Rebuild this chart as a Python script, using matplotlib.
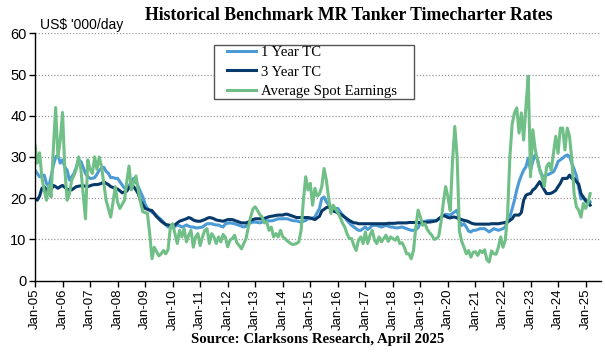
import matplotlib
matplotlib.use("Agg")
import matplotlib.pyplot as plt
from matplotlib.patches import Rectangle
import numpy as np

# monthly data, Jan 2005 - Mar 2025 (US$ '000/day)
one_year_tc = [
    26.8, 26.0, 25.2, 25.4, 25.6, 23.6, 22.8, 25.2, 28.0, 30.0, 30.4, 28.5,  # 2005
    29.3, 27.5, 26.8, 24.4, 25.2, 26.0, 27.5, 29.3, 28.9, 27.5, 26.0, 25.2,  # 2006
    24.8, 24.8, 25.0, 25.8, 26.8, 27.2, 27.5, 26.5, 26.0, 25.0, 25.0, 24.8,  # 2007
    24.8, 24.0, 23.2, 22.4, 22.6, 23.0, 24.0, 24.8, 24.0, 22.8, 21.5, 20.3,  # 2008
    18.5, 17.5, 17.0, 16.6, 16.3, 15.8, 15.2, 14.8, 14.2, 13.6, 13.0, 13.2,  # 2009
    12.8, 13.1, 13.5, 13.3, 13.0, 13.2, 13.5, 13.2, 13.0, 13.0, 12.8, 12.8,  # 2010
    12.9, 13.0, 13.4, 13.8, 13.8, 13.8, 13.6, 13.5, 13.5, 13.2, 13.0, 13.8,  # 2011
    13.9, 14.0, 13.9, 13.8, 13.6, 13.4, 13.2, 13.0, 13.2, 13.8, 14.0, 14.2,  # 2012
    14.2, 14.1, 14.0, 14.2, 14.5, 14.5, 14.5, 14.5, 14.6, 14.8, 15.0, 15.0,  # 2013
    15.0, 15.0, 15.0, 14.8, 14.6, 14.5, 14.5, 14.3, 14.2, 14.4, 14.6, 15.0,  # 2014
    15.0, 15.2, 15.4, 16.5, 17.5, 19.9, 20.3, 19.1, 18.5, 17.9, 17.5, 17.5,  # 2015
    17.5, 16.7, 16.0, 15.4, 14.6, 14.0, 13.4, 13.0, 12.6, 12.2, 12.2, 12.6,  # 2016
    13.0, 12.4, 12.8, 13.4, 13.4, 13.4, 13.2, 13.0, 13.2, 13.4, 13.2, 13.0,  # 2017
    13.0, 12.8, 12.8, 12.9, 13.0, 12.8, 12.6, 12.4, 12.2, 12.2, 12.4, 12.8,  # 2018
    14.2, 14.3, 14.4, 14.5, 14.6, 14.6, 14.6, 14.6, 15.0, 15.4, 15.8, 16.1,  # 2019
    16.0, 15.9, 16.3, 16.7, 17.1, 14.6, 13.4, 13.8, 13.0, 12.0, 11.8, 12.2,  # 2020
    12.2, 12.4, 12.6, 12.6, 12.6, 12.2, 11.8, 12.2, 12.6, 12.4, 12.2, 12.4,  # 2021
    12.6, 13.0, 14.6, 15.4, 17.5, 19.5, 22.0, 24.0, 25.5, 26.8, 27.6, 29.7,  # 2022
    26.8, 29.0, 30.5, 29.5, 27.0, 25.5, 25.3, 25.6, 25.8, 26.1, 26.4, 27.4,  # 2023
    28.9, 29.3, 29.7, 30.2, 30.5, 30.1, 28.5, 27.0, 25.5, 22.5, 19.8, 20.3,  # 2024
    19.2, 18.7, 19.1,                                                        # 2025
]

three_year_tc = [
    19.9, 19.5, 20.5, 22.4, 22.8, 22.0, 21.1, 22.0, 23.1, 22.8, 22.4, 22.8,  # 2005
    23.1, 22.6, 22.2, 22.0, 22.0, 22.4, 22.8, 22.9, 23.0, 23.0, 22.9, 22.8,  # 2006
    23.0, 23.2, 23.3, 23.3, 23.4, 23.6, 24.0, 23.6, 23.3, 22.8, 22.6, 22.4,  # 2007
    22.2, 21.8, 21.3, 21.5, 21.7, 22.5, 23.1, 22.8, 22.0, 21.1, 19.4, 18.4,  # 2008
    17.5, 17.3, 17.1, 17.0, 16.2, 15.5, 15.0, 14.4, 14.0, 13.6, 13.5, 13.4,  # 2009
    13.4, 13.5, 14.0, 14.4, 14.6, 14.8, 15.0, 15.3, 15.1, 14.7, 14.5, 14.4,  # 2010
    14.4, 14.6, 14.8, 15.1, 15.3, 15.2, 15.0, 14.7, 14.6, 14.5, 14.4, 14.6,  # 2011
    14.8, 14.8, 14.8, 14.6, 14.4, 14.2, 14.0, 14.0, 14.0, 14.2, 14.6, 14.8,  # 2012
    15.0, 15.0, 15.0, 15.0, 15.1, 15.3, 15.5, 15.6, 15.7, 15.8, 15.9, 15.9,  # 2013
    15.9, 16.1, 16.1, 15.9, 15.7, 15.5, 15.3, 15.3, 15.3, 15.3, 15.3, 15.3,  # 2014
    15.2, 15.0, 14.8, 15.2, 15.6, 16.9, 17.3, 17.7, 17.9, 17.3, 16.9, 16.7,  # 2015
    16.4, 16.1, 15.8, 15.4, 15.0, 14.6, 14.3, 14.0, 14.0, 13.8, 13.8, 13.8,  # 2016
    13.8, 13.8, 13.8, 13.8, 13.8, 13.8, 13.8, 13.8, 13.8, 13.8, 13.9, 13.9,  # 2017
    13.9, 13.9, 14.0, 14.0, 14.0, 14.0, 14.0, 14.1, 14.1, 14.1, 14.1, 14.1,  # 2018
    14.1, 14.1, 14.1, 14.2, 14.2, 14.3, 14.4, 14.5, 15.0, 15.4, 15.8, 15.6,  # 2019
    15.3, 15.2, 15.4, 15.4, 15.2, 15.0, 14.8, 14.6, 14.5, 14.3, 14.0, 13.8,  # 2020
    13.7, 13.7, 13.7, 13.7, 13.7, 13.7, 13.7, 13.8, 13.8, 13.8, 13.8, 13.9,  # 2021
    14.0, 14.1, 14.2, 14.6, 15.0, 15.9, 15.9, 15.9, 16.5, 19.5, 20.7, 21.0,  # 2022
    21.1, 22.0, 22.4, 23.2, 24.0, 23.0, 22.0, 21.1, 21.1, 21.2, 21.5, 21.9,  # 2023
    22.8, 23.6, 24.8, 24.8, 24.8, 25.6, 24.8, 24.8, 24.0, 23.4, 21.1, 20.2,  # 2024
    19.5, 19.0, 18.3,                                                        # 2025
]

spot_earnings = [
    33.0, 28.5, 31.0, 25.0, 22.0, 19.5, 23.0, 20.3, 32.0, 42.0, 30.0, 34.0,  # 2005
    40.8, 27.0, 19.5, 21.0, 24.4, 25.5, 27.0, 30.0, 27.0, 21.0, 15.0, 29.3,  # 2006
    27.0, 26.0, 30.0, 27.0, 30.0, 27.6, 23.6, 19.5, 17.5, 15.4, 19.0, 22.8,  # 2007
    19.0, 17.5, 18.5, 19.5, 24.0, 27.8, 22.0, 24.0, 25.4, 22.0, 19.0, 16.7,  # 2008
    16.5, 16.3, 11.4, 5.3, 8.1, 7.0, 6.0, 6.5, 7.3, 6.5, 7.5, 13.0,          # 2009
    13.8, 11.4, 9.0, 12.2, 10.6, 12.6, 9.4, 11.0, 12.2, 8.1, 10.6, 11.4,     # 2010
    8.5, 10.6, 12.2, 12.6, 9.0, 11.4, 10.6, 9.0, 10.6, 9.4, 11.2, 10.5,      # 2011
    8.2, 9.8, 10.2, 11.0, 9.2, 8.5, 7.7, 9.0, 10.2, 13.0, 15.4, 17.4,        # 2012
    17.9, 17.0, 16.0, 15.4, 14.0, 14.2, 12.2, 13.0, 10.6, 11.4, 10.6, 12.2,  # 2013
    10.6, 10.2, 9.6, 9.2, 8.8, 8.8, 9.0, 9.4, 12.2, 19.5, 25.2, 22.0,        # 2014
    23.6, 18.3, 22.4, 20.5, 21.0, 22.8, 27.2, 24.4, 20.0, 16.3, 18.3, 17.3,  # 2015
    16.5, 15.4, 14.0, 13.0, 11.4, 10.2, 10.2, 8.5, 7.3, 9.8, 10.6, 9.0,      # 2016
    11.8, 9.0, 11.0, 12.2, 9.8, 9.0, 10.6, 9.4, 10.2, 11.0, 9.5, 10.6,       # 2017
    10.2, 9.8, 10.6, 9.0, 9.2, 8.1, 6.5, 6.5, 5.3, 7.3, 13.0, 17.1,          # 2018
    15.4, 13.4, 13.8, 12.4, 11.6, 11.0, 10.0, 10.2, 10.8, 14.2, 19.0, 22.8,  # 2019
    20.3, 17.0, 29.0, 37.4, 30.0, 12.0, 9.5, 8.1, 6.5, 7.3, 5.7, 6.9,        # 2020
    7.0, 6.1, 7.3, 6.8, 7.5, 5.0, 4.5, 7.2, 6.5, 6.4, 8.1, 10.6,             # 2021
    8.1, 9.8, 16.0, 30.0, 38.0, 40.7, 41.9, 35.8, 40.7, 34.1, 42.3, 49.6,    # 2022
    25.2, 36.6, 32.0, 29.3, 26.8, 25.2, 22.8, 27.6, 28.5, 26.8, 30.9, 35.0,  # 2023
    30.9, 37.0, 37.0, 31.7, 37.0, 35.0, 29.3, 21.1, 17.9, 17.1, 15.4, 18.7,  # 2024
    17.5, 18.7, 21.1,                                                        # 2025
]

tick_years = list(range(2005, 2026))
tick_labels = ["Jan-%02d" % (y % 100) for y in tick_years]

series_names = ["1 Year TC", "3 Year TC", "Average Spot Earnings"]
series_colors = ["#4C9BD6", "#073A6A", "#6FBF86"]

months = np.arange(len(spot_earnings))
x = 2005 + months / 12.0

sans = ["Liberation Sans", "DejaVu Sans"]
serif = ["Liberation Serif", "DejaVu Serif"]

W, H = 605, 357
fig = plt.figure(figsize=(W / 100, H / 100), dpi=100)
ax = fig.add_axes([35 / W, 1 - 280.6 / H, 566 / W, 247.3 / H])

for vals, name, col in zip([one_year_tc, three_year_tc, spot_earnings],
                           series_names, series_colors):
    ax.plot(x, vals, color=col, linewidth=2.2, label=name,
            solid_joinstyle="round")

ax.set_xlim(2005, 2025.56)
ax.set_ylim(0, 60)
ax.set_yticks(range(0, 61, 10))
ax.set_xticks(tick_years)
ax.set_xticklabels(tick_labels, rotation=90, family=sans, fontsize=9.5)
for lbl in ax.get_yticklabels():
    lbl.set_family(sans)
    lbl.set_fontsize(10.5)

for v in range(10, 61, 10):
    ax.axhline(v, color="#9a9a9a", linewidth=0.9, linestyle=(0, (1, 1.5)),
               zorder=0)

for side in ["top", "right"]:
    ax.spines[side].set_visible(False)
ax.spines["left"].set_linewidth(1.0)
ax.spines["bottom"].set_linewidth(1.0)
ax.tick_params(axis="both", direction="out", length=4, width=1, pad=2)

fig.text(40 / W, 1 - 25 / H, "US$ '000/day", family=sans,
         fontsize=10, va="center", ha="left")
fig.text(349 / W, 1 - 15 / H,
         "Historical Benchmark MR Tanker Timecharter Rates",
         family=serif, fontsize=12.8, fontweight="bold",
         ha="center", va="center")
fig.text(318 / W, 1 - 340 / H, "Source: Clarksons Research, April 2025",
         family=serif, fontsize=10.7, fontweight="bold",
         ha="center", va="center")

# legend box drawn by hand so the padding matches the original
fig.patches.append(Rectangle((214 / W, 1 - 99 / H), 200 / W, 54 / H,
                             transform=fig.transFigure, facecolor="white",
                             edgecolor="#555555", linewidth=1.0, zorder=5))
leg = ax.legend(loc="upper left", bbox_to_anchor=(227 / W, 1 - 46 / H),
                bbox_transform=fig.transFigure,
                prop={"family": serif, "size": 10.6},
                frameon=False, handlelength=2.0, handletextpad=0.3,
                borderpad=0, labelspacing=0.4, borderaxespad=0)
leg.set_zorder(6)
fig.legends.append(leg)
ax.get_legend().remove()

plt.savefig("out.png", dpi=100)
